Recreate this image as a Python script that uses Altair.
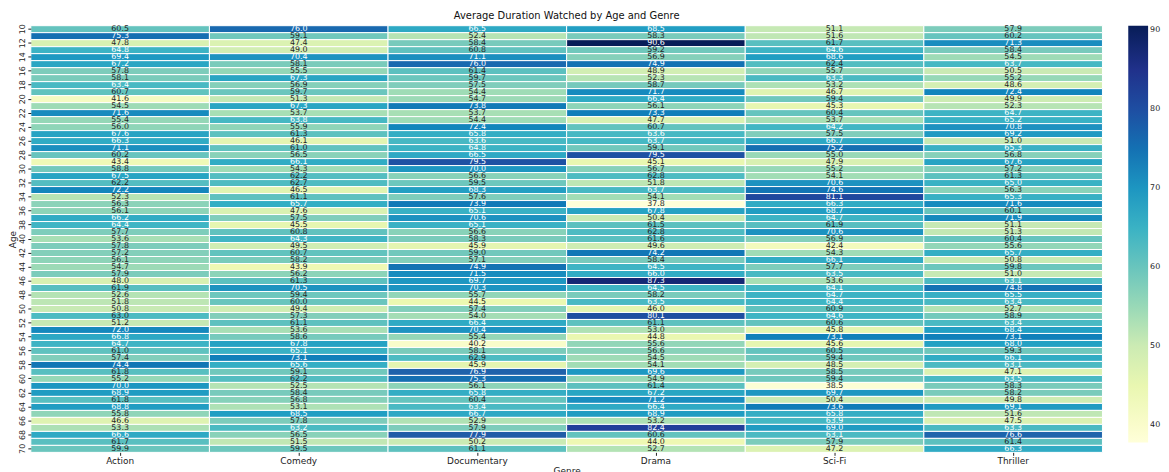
import altair as alt
import pandas as pd

ages = list(range(10, 71))
genres = ["Action", "Comedy", "Documentary", "Drama", "Sci-Fi", "Thriller"]

action = [60.5, 75.3, 47.8, 64.8, 69.4, 67.2, 57.8, 58.1, 63.4, 60.7,
          41.6, 54.5, 71.6, 55.4, 56.0, 67.6, 66.3, 71.1, 60.2, 43.4,
          58.8, 67.5, 62.2, 72.2, 52.3, 56.3, 56.1, 66.2, 64.4, 57.7,
          53.6, 57.8, 57.2, 56.1, 54.7, 57.9, 48.0, 61.9, 52.6, 51.8,
          50.8, 63.0, 51.2, 72.0, 66.8, 64.7, 61.0, 57.4, 74.4, 61.8,
          55.2, 70.0, 68.9, 61.8, 68.8, 55.8, 46.6, 53.3, 66.6, 61.7, 59.9]
comedy = [76.0, 59.1, 47.4, 49.0, 70.4, 58.1, 55.5, 67.3, 56.9, 59.7,
          51.3, 67.3, 53.7, 63.8, 55.9, 61.3, 46.1, 61.0, 56.5, 66.1,
          54.3, 62.2, 62.7, 46.5, 61.1, 65.7, 47.6, 57.5, 45.5, 60.8,
          64.3, 49.5, 60.7, 58.2, 43.9, 56.2, 61.3, 70.5, 59.4, 60.0,
          49.4, 57.3, 61.1, 53.6, 58.6, 67.8, 65.1, 73.1, 65.6, 59.1,
          62.2, 52.5, 58.4, 56.8, 53.1, 68.5, 57.8, 63.2, 56.5, 51.5, 59.5]
documentary = [66.5, 52.4, 58.4, 60.8, 71.1, 76.0, 61.4, 59.7, 57.5, 54.4,
               54.7, 73.8, 53.7, 54.4, 72.4, 65.8, 63.6, 64.8, 66.5, 79.5,
               70.0, 56.6, 59.5, 68.3, 57.6, 73.9, 65.1, 70.6, 65.1, 56.6,
               58.3, 45.9, 59.0, 57.1, 74.9, 71.5, 69.7, 70.3, 55.7, 44.5,
               57.4, 54.0, 66.4, 70.4, 55.4, 40.2, 58.1, 62.9, 45.9, 76.9,
               75.3, 56.1, 65.8, 60.4, 63.4, 66.7, 52.9, 57.9, 77.9, 50.2, 61.1]
drama = [68.5, 58.3, 90.6, 59.2, 56.9, 74.9, 48.9, 52.3, 58.7, 71.7,
         66.4, 56.1, 73.3, 47.7, 60.7, 63.6, 63.7, 59.1, 79.5, 45.1,
         56.7, 62.8, 51.8, 63.7, 54.1, 37.8, 67.8, 50.4, 61.5, 62.8,
         61.6, 49.6, 74.2, 58.4, 64.5, 66.0, 87.3, 64.5, 58.2, 63.5,
         46.0, 80.1, 61.1, 53.0, 44.8, 55.6, 56.6, 54.5, 54.1, 69.6,
         54.9, 61.4, 67.2, 71.2, 66.4, 68.9, 53.2, 82.4, 60.6, 44.0, 52.7]
scifi = [51.1, 51.6, 61.7, 64.6, 68.6, 62.4, 55.7, 63.3, 53.2, 46.7,
         59.4, 45.3, 60.4, 53.7, 64.2, 57.5, 66.7, 75.2, 55.0, 47.9,
         55.2, 54.1, 70.6, 74.6, 81.1, 66.3, 68.7, 64.7, 61.9, 70.6,
         56.9, 42.4, 54.3, 66.1, 57.7, 63.5, 53.6, 64.1, 64.7, 64.4,
         60.9, 64.6, 60.6, 45.8, 73.1, 45.6, 60.5, 59.4, 48.5, 58.5,
         59.4, 38.5, 69.7, 50.4, 73.6, 65.8, 63.9, 69.0, 63.1, 57.9, 47.2]
thriller = [57.9, 60.2, 71.3, 58.4, 54.5, 63.7, 50.5, 55.2, 48.6, 72.4,
            49.9, 52.3, 64.7, 65.2, 70.8, 69.2, 51.0, 65.3, 56.8, 67.6,
            57.2, 61.3, 65.0, 56.3, 65.3, 71.6, 60.1, 71.9, 51.1, 51.3,
            60.4, 55.6, 65.7, 50.8, 59.8, 51.0, 63.1, 74.8, 65.5, 63.4,
            52.7, 58.9, 63.4, 68.4, 73.1, 68.0, 59.3, 66.1, 63.1, 47.1,
            63.5, 58.3, 58.2, 49.8, 69.1, 51.6, 47.5, 63.3, 76.6, 61.4, 66.3]

series = [action, comedy, documentary, drama, scifi, thriller]
rows = []
for g, vals in zip(genres, series):
    for a, v in zip(ages, vals):
        rows.append({"Genre": g, "Age": a, "Value": v})
df = pd.DataFrame(rows)

allv = [v for s in series for v in s]
vmin, vmax = min(allv), max(allv)
ylgnbu = ["#ffffd9", "#edf8b1", "#c7e9b4", "#7fcdbb", "#41b6c4",
          "#1d91c0", "#225ea8", "#253494", "#081d58"]
dom = [vmin + i * (vmax - vmin) / 8 for i in range(9)]

font = "DejaVu Sans"
base = alt.Chart(df).encode(
    x=alt.X("Genre:N", sort=genres, title="Genre",
            axis=alt.Axis(labelAngle=0, labelFontSize=9, titleFontSize=9,
                          labelFont=font, titleFont=font, titleFontWeight="normal",
                          labelColor="#222", titleColor="#222", domain=False,
                          tickSize=3, tickColor="#222", labelPadding=1, titlePadding=1)),
    y=alt.Y("Age:O", sort="ascending", title="Age",
            axis=alt.Axis(values=list(range(10, 71, 2)), labelAngle=270,
                          labelAlign="center", labelBaseline="bottom",
                          labelFontSize=8, titleFontSize=9, labelFont=font, titleFont=font,
                          titleFontWeight="normal", labelColor="#222", titleColor="#222",
                          domain=False, tickSize=3, tickColor="#222",
                          labelPadding=1, titlePadding=1)),
)

rect = base.mark_rect(stroke="white", strokeWidth=1).encode(
    color=alt.Color("Value:Q",
                    scale=alt.Scale(domain=dom, range=ylgnbu, type="linear"),
                    legend=alt.Legend(title=None, gradientLength=420, gradientThickness=20,
                                      values=[40, 50, 60, 70, 80, 90], labelFontSize=8,
                                      labelFont=font, labelColor="#222", offset=26,
                                      gradientStrokeWidth=0, tickCount=6))
)

text = base.mark_text(fontSize=8, font=font, baseline="middle").encode(
    text=alt.Text("Value:Q", format=".1f"),
    color=alt.condition(alt.datum.Value > 63, alt.value("white"), alt.value("#262626")),
)

chart = (rect + text).properties(
    width=1080, height=430,
    title=alt.Title("Average Duration Watched by Age and Genre", fontSize=10,
                    font=font, fontWeight="normal", color="#111", offset=3),
    padding={"left": 0, "top": 0, "right": 0, "bottom": 0},
).configure_view(stroke=None)

chart.save("out.html", embed_options={"renderer": "svg", "actions": False})
